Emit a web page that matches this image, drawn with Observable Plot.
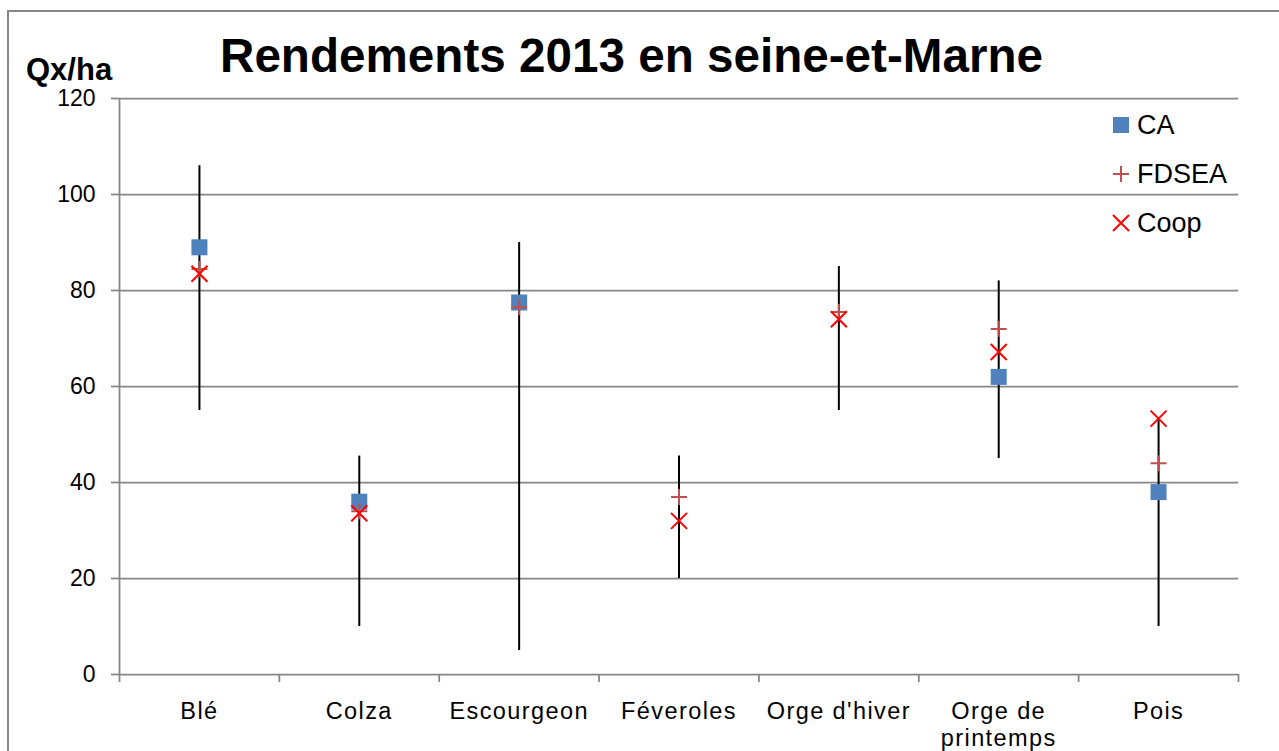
<!DOCTYPE html>
<html>
<head>
<meta charset="utf-8">
<script src="https://cdn.jsdelivr.net/npm/d3@7"></script>
<script src="https://cdn.jsdelivr.net/npm/@observablehq/plot@0.6"></script>
<style>
  html, body { margin: 0; padding: 0; background: #fff; }
  #wrap { position: relative; width: 1279px; height: 751px; overflow: hidden; font-family: "Liberation Sans", Arial, sans-serif; }
  #wrap > svg { position: absolute; left: 0; top: 0; }
  #overlay { position: absolute; left: 0; top: 0; pointer-events: none; }
</style>
</head>
<body>
<div id="wrap"></div>
<script>
// ---- data ----
const categories = ["Blé", "Colza", "Escourgeon", "Féveroles", "Orge d'hiver", "Orge de printemps", "Pois"];
const tickLabels = ["Blé", "Colza", "Escourgeon", "Féveroles", "Orge d'hiver", "Orge de\nprintemps", "Pois"];
const high  = [106, 45.5, 90, 45.5, 85, 82, 53];
const low   = [55, 10, 5, 20, 55, 45, 10];
const ca    = [89, 36, 77.5, null, null, 62, 38];
const fdsea = [84.5, 34, 76.5, 37, 75.5, 72, 44];
const coop  = [83.5, 33.6, null, 32, 74, 67.2, 53.3];
const yTicks = [0, 20, 40, 60, 80, 100, 120];
const seriesNames = ["CA", "FDSEA", "Coop"];

const rows = categories.map((c, i) => ({
  i, cat: c, label: tickLabels[i], high: high[i], low: low[i],
  ca: ca[i], fdsea: fdsea[i], coop: coop[i]
}));

// custom symbols: half-size = sqrt(size/π) = r
const sqSym = { draw(ctx, size) { const h = Math.sqrt(size / Math.PI); ctx.rect(-h, -h, 2 * h, 2 * h); } };
const plusSym = { draw(ctx, size) { const h = Math.sqrt(size / Math.PI); ctx.moveTo(-h, 0); ctx.lineTo(h, 0); ctx.moveTo(0, -h); ctx.lineTo(0, h); } };
const timesSym = { draw(ctx, size) { const h = Math.sqrt(size / Math.PI); ctx.moveTo(-h, -h); ctx.lineTo(h, h); ctx.moveTo(h, -h); ctx.lineTo(-h, h); } };

const xc = d => d.i + 0.5;
const grey = "#868686";

const chart = Plot.plot({
  width: 1279,
  height: 751,
  marginLeft: 119,
  marginRight: 41,
  marginTop: 98,
  marginBottom: 77,
  style: { fontFamily: "'Liberation Sans', Arial, sans-serif", fontSize: "23px", background: "transparent", color: "#000" },
  x: { domain: [0, categories.length], axis: null },
  y: { domain: [0, 120], axis: null },
  marks: [
    Plot.gridY(yTicks, { stroke: grey, strokeOpacity: 1, strokeWidth: 1.75 }),
    Plot.ruleX([0], { stroke: grey, strokeWidth: 1.75 }),
    Plot.axisY(yTicks, { tickSize: 8, tickPadding: 16, fontSize: 23, stroke: grey, strokeWidth: 1.75, label: null, fill: "#000" }),
    Plot.axisX(d3.range(categories.length + 1), { tickSize: 8, tickFormat: () => "", stroke: grey, strokeWidth: 1.75, label: null }),
    Plot.text(rows, { x: xc, y: () => 0, text: "label", dy: 26, lineAnchor: "top", lineHeight: 1.12, fontSize: 23.5, fill: "#000" }),
    Plot.ruleX(rows, { x: xc, y1: "low", y2: "high", stroke: "#000", strokeWidth: 2 }),
    Plot.dot(rows, { x: xc, y: "ca", symbol: sqSym, r: 8, fill: "#4F81BD", stroke: "none" }),
    Plot.dot(rows, { x: xc, y: "fdsea", symbol: plusSym, r: 8, fill: "none", stroke: "#C0504D", strokeWidth: 2 }),
    Plot.dot(rows, { x: xc, y: "coop", symbol: timesSym, r: 8, fill: "none", stroke: "#FF0000", strokeWidth: 2 })
  ]
});

const wrap = document.getElementById("wrap");
wrap.appendChild(chart);
d3.select(chart).selectAll('g[aria-label="text"] text').style("letter-spacing", "1.4px");

// overlay: border, title, unit label, legend
const ov = d3.select(wrap).append("svg")
  .attr("id", "overlay").attr("width", 1279).attr("height", 751)
  .style("font-family", "'Liberation Sans', Arial, sans-serif");

ov.append("path").attr("d", "M8,751 V11 H1279").attr("fill", "none").attr("stroke", grey).attr("stroke-width", 2);

ov.append("text").attr("x", 220).attr("y", 72).attr("font-size", 47.5).attr("font-weight", "bold")
  .attr("textLength", 823).attr("lengthAdjust", "spacingAndGlyphs")
  .text("Rendements 2013 en seine-et-Marne");
ov.append("text").attr("x", 26).attr("y", 80).attr("font-size", 31).attr("font-weight", "bold")
  .text("Qx/ha");

const legSyms = [
  { sym: sqSym, fill: "#4F81BD", stroke: "none" },
  { sym: plusSym, fill: "none", stroke: "#C0504D" },
  { sym: timesSym, fill: "none", stroke: "#FF0000" }
];
seriesNames.forEach((name, k) => {
  const cy = 125 + k * 49;
  ov.append("path")
    .attr("transform", `translate(1121,${cy})`)
    .attr("d", d3.symbol(legSyms[k].sym, Math.PI * 64)())
    .attr("fill", legSyms[k].fill).attr("stroke", legSyms[k].stroke).attr("stroke-width", 2);
  ov.append("text").attr("x", 1137).attr("y", cy + 9).attr("font-size", 27).text(name);
});
</script>
</body>
</html>
